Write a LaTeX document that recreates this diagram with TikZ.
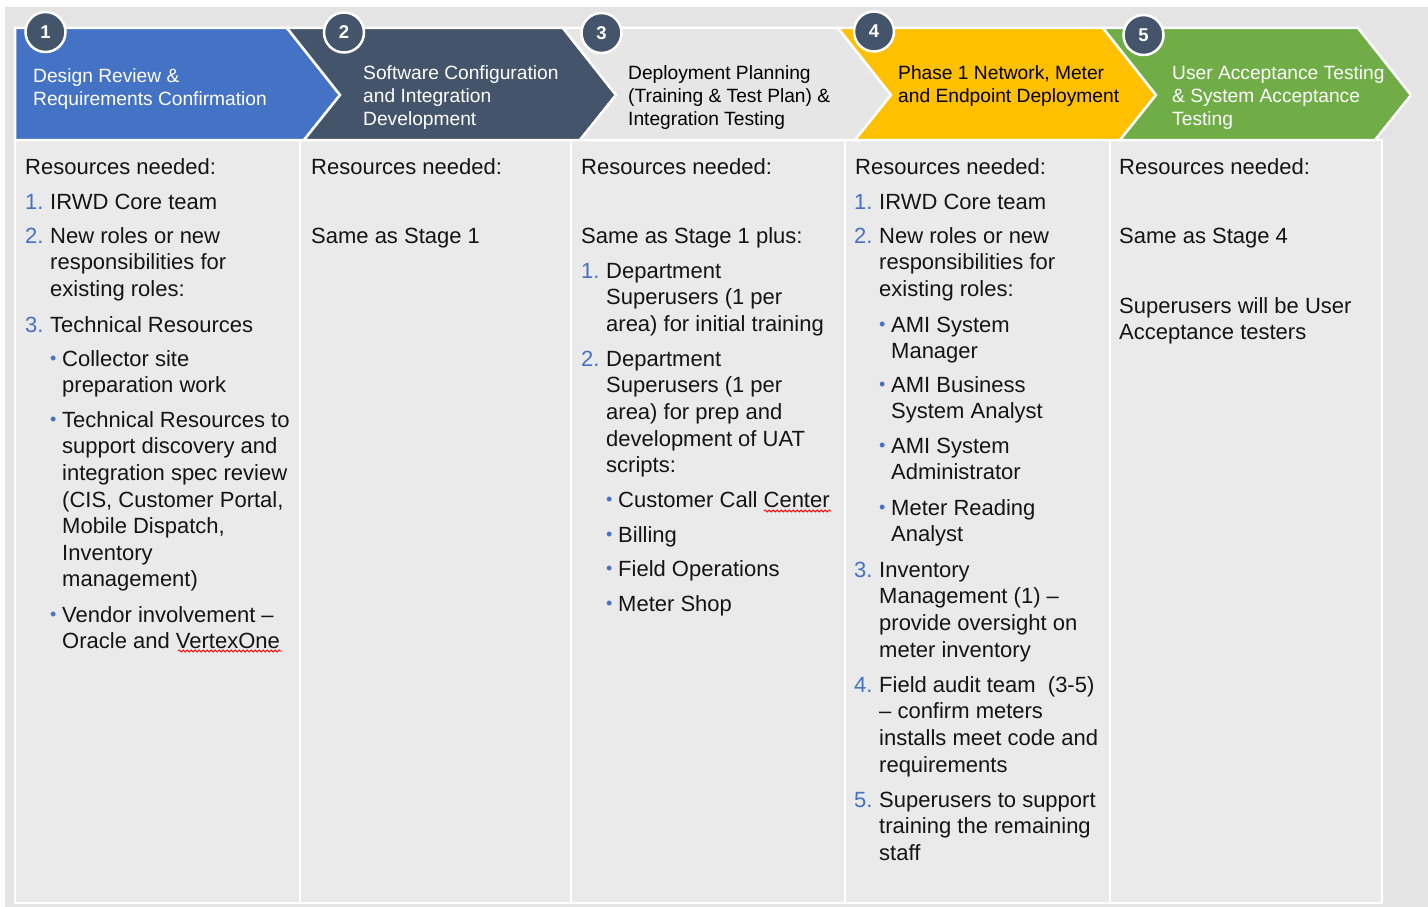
\documentclass[tikz,border=0pt]{standalone}
\usepackage{fontspec}
\setmainfont{Liberation Sans}
\usetikzlibrary{decorations.pathmorphing}

\definecolor{stageblue}{HTML}{4472C4}
\definecolor{stageslate}{HTML}{44546A}
\definecolor{stagegrey}{HTML}{E7E6E6}
\definecolor{stagegold}{HTML}{FFC000}
\definecolor{stagegreen}{HTML}{70AD47}
\definecolor{pagegrey}{HTML}{E4E4E4}
\definecolor{cellgrey}{HTML}{EAEAEA}
\definecolor{numblue}{HTML}{4472C4}

% list marks hang to the left of the text column
\newcommand\numl[1]{\strut\llap{\makebox[25pt][l]{\textcolor{numblue}{#1}}}}
\newcommand\bul{\strut\llap{\makebox[12pt][l]{\textcolor{numblue}{\fontsize{18}{18}\selectfont\raisebox{1.8pt}{\char"2022}}}}}

\begin{document}
\begin{tikzpicture}[
  x=1pt, y=-1pt,
  chev/.style={draw=white, line width=2.5pt, line join=miter},
  cellbox/.style={fill=cellgrey, draw=white, line width=2pt},
  stepnum/.style={circle, fill=stageslate, draw=white, line width=2.5pt, minimum size=40pt, inner sep=0pt,
                  text=white, font=\fontsize{18.5}{18.5}\selectfont\bfseries},
  % nodes are placed at the baseline of their first line (which starts with a strut)
  stagehead/.style={anchor=north west, yshift=16.1pt, inner sep=0pt, align=left,
                    font=\fontsize{19.2}{23}\selectfont},
  bodytxt/.style={anchor=north west, yshift=18.62pt, inner sep=0pt, align=left, text=black!92,
                  execute at begin node=\strut, font=\fontsize{22}{26.6}\selectfont},
  spellwave/.style={draw=red, line width=0.8pt, decorate, decoration={snake, amplitude=1pt, segment length=4pt}},
]
\useasboundingbox (0,0) rectangle (1428,907);
\fill[white] (0,0) rectangle (1428,907);
\fill[pagegrey] (5,7) rectangle (1428,907);

% ============================== columns ==============================
\foreach \xl/\xr in {15/300, 300/571, 571/845, 845/1110, 1110/1382}
  \filldraw[cellbox] (\xl,140) rectangle (\xr,903);

% ============================== stage chevrons ==============================
\foreach \k/\lr/\rr/\fc in {1/15/287/stageblue, 2/287/563/stageslate, 3/563/838/stagegrey,
                             4/838/1103/stagegold, 5/1103/1358/stagegreen}{
  \ifnum\k=1
    \filldraw[chev, fill=\fc] (\lr,28) -- (\rr,28) -- (\rr+53,95) -- (\rr+17,140) -- (\lr,140) -- cycle;
  \else
    \filldraw[chev, fill=\fc] (\lr,28) -- (\rr,28) -- (\rr+53,95) -- (\rr+17,140)
                               -- (\lr+17,140) -- (\lr+53,95) -- cycle;
  \fi
}

% stage numbers
\foreach \k/\cx/\cy in {1/45.5/32, 2/344/32.5, 3/601.5/33, 4/874/31.5, 5/1143.5/35}
  \node[stepnum] (n\k) at (\cx,\cy) {\k};

% stage titles
\node[stagehead, text=white] (h1) at (33,82) {\strut Design Review \&\\Requirements Confirmation};
\node[stagehead, text=white] (h2) at (363,79) {\strut Software Configuration\\and Integration\\Development};
\node[stagehead, text=black] (h3) at (628,79) {\strut Deployment Planning\\(Training \& Test Plan) \&\\Integration Testing};
\node[stagehead, text=black] (h4) at (898,79) {\strut Phase 1 Network, Meter\\and Endpoint Deployment};
\node[stagehead, text=white] (h5) at (1172,79) {\strut User Acceptance Testing\\\& System Acceptance\\Testing};

% ============================== stage 1 ==============================
\node[bodytxt] (r1) at (25,174) {Resources needed:};
\node[bodytxt] (r1a) at (50,209) {\numl{1.}IRWD Core team};
\node[bodytxt] (r1b) at (50,243) {\numl{2.}New roles or new\\responsibilities for\\existing roles:};
\node[bodytxt] (r1c) at (50,332) {\numl{3.}Technical Resources};
\node[bodytxt] (r1d) at (62,366) {\bul Collector site\\preparation work};
\node[bodytxt] (r1e) at (62,427) {\bul Technical Resources to\\support discovery and\\integration spec review\\(CIS, Customer Portal,\\Mobile Dispatch,\\Inventory\\management)};
\node[bodytxt] (r1f) at (62,622) {\bul Vendor involvement –\\Oracle and VertexOne};
\draw[spellwave] (178,651) -- (282,651);

% ============================== stage 2 ==============================
\node[bodytxt] (r2) at (311,174) {Resources needed:};
\node[bodytxt] (r2a) at (311,243) {Same as Stage 1};

% ============================== stage 3 ==============================
\node[bodytxt] (r3) at (581,174) {Resources needed:};
\node[bodytxt] (r3a) at (581,243) {Same as Stage 1 plus:};
\node[bodytxt] (r3b) at (606,278) {\numl{1.}Department\\Superusers (1 per\\area) for initial training};
\node[bodytxt] (r3c) at (606,366) {\numl{2.}Department\\Superusers (1 per\\area) for prep and\\development of UAT\\scripts:};
\node[bodytxt] (r3d) at (618,507) {\bul Customer Call Center};
\draw[spellwave] (764,511) -- (831,511);
\node[bodytxt] (r3e) at (618,542) {\bul Billing};
\node[bodytxt] (r3f) at (618,576) {\bul Field Operations};
\node[bodytxt] (r3g) at (618,611) {\bul Meter Shop};

% ============================== stage 4 ==============================
\node[bodytxt] (r4) at (855,174) {Resources needed:};
\node[bodytxt] (r4a) at (879,209) {\numl{1.}IRWD Core team};
\node[bodytxt] (r4b) at (879,243) {\numl{2.}New roles or new\\responsibilities for\\existing roles:};
\node[bodytxt] (r4c) at (891,332) {\bul AMI System\\Manager};
\node[bodytxt] (r4d) at (891,392) {\bul AMI Business\\System Analyst};
\node[bodytxt] (r4e) at (891,453) {\bul AMI System\\Administrator};
\node[bodytxt] (r4f) at (891,515) {\bul Meter Reading\\Analyst};
\node[bodytxt] (r4g) at (879,577) {\numl{3.}Inventory\\Management (1) –\\provide oversight on\\meter inventory};
\node[bodytxt] (r4h) at (879,692) {\numl{4.}Field audit team\ \ (3-5)\\– confirm meters\\installs meet code and\\requirements};
\node[bodytxt] (r4i) at (879,807) {\numl{5.}Superusers to support\\training the remaining\\staff};

% ============================== stage 5 ==============================
\node[bodytxt] (r5) at (1119,174) {Resources needed:};
\node[bodytxt] (r5a) at (1119,243) {Same as Stage 4};
\node[bodytxt] (r5b) at (1119,313) {\strut Superusers will be User\\Acceptance testers};
\end{tikzpicture}
\end{document}
